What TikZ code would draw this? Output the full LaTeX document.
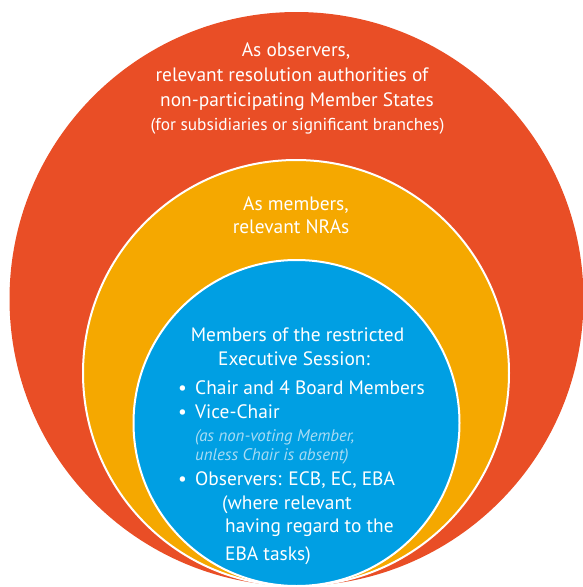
\documentclass[tikz,border=0pt]{standalone}
\usepackage{fontspec}
\setmainfont{PT Sans}
\definecolor{ringred}{HTML}{E94E26}
\definecolor{ringorange}{HTML}{F5A800}
\definecolor{ringblue}{HTML}{009FE3}
\definecolor{notecol}{HTML}{A8DCF4}
\begin{document}
\begin{tikzpicture}[x=1pt,y=-1pt,
  ring/.style={circle,inner sep=0pt,outer sep=0pt,draw=white,line width=2pt},
  txt/.style={text=white,inner sep=0pt,anchor=base,font=\fontsize{19.4}{24}\selectfont},
  txtsmall/.style={txt,font=\fontsize{17.3}{20}\selectfont},
  itemtxt/.style={txt,anchor=base west},
  note/.style={itemtxt,text=notecol,font=\fontsize{16.8}{18}\selectfont\itshape}]
\useasboundingbox (0,0) rectangle (583,587);

% nested rings, all touching at the bottom
\node[ring,fill=ringred,draw=none,minimum size=574pt] (outer) at (296.5,299) {};
\node[ring,fill=ringorange,minimum size=426pt] (middle) at (296,373) {};
\node[ring,fill=ringblue,minimum size=326pt] (inner) at (296.5,423) {};

% outer ring
\node[txt] (o1) at (296,56.5) {As observers,};
\node[txt] (o2) at (292,81.5) {relevant resolution authorities of};
\node[txt] (o3) at (297,106) {non-participating Member States};
\node[txtsmall] (o4) at (297.5,130) {(for subsidiaries or significant branches)};

% middle ring
\node[txt] (m1) at (296,210) {As members,};
\node[txt] (m2) at (291,233) {relevant NRAs};

% inner circle
\node[txt] (i1) at (297.5,341.5) {Members of the restricted};
\node[txt] (i2) at (294,365) {Executive Session:};
\node[itemtxt] (b1) at (178,394) {\makebox[17pt][l]{\textbullet}Chair and 4 Board Members};
\node[itemtxt] (b2) at (178,418) {\makebox[17pt][l]{\textbullet}Vice-Chair};
\node[note] (n1) at (195,441.5) {(as non-voting Member,};
\node[note] (n2) at (195,460) {unless Chair is absent)};
\node[itemtxt] (b3) at (178,485) {\makebox[17pt][l]{\textbullet}Observers: ECB, EC, EBA};
\node[itemtxt] (w1) at (222,509) {(where relevant};
\node[itemtxt] (w2) at (225,532.5) {having regard to the};
\node[itemtxt] (w3) at (225,560.5) {EBA tasks)};
\end{tikzpicture}
\end{document}
